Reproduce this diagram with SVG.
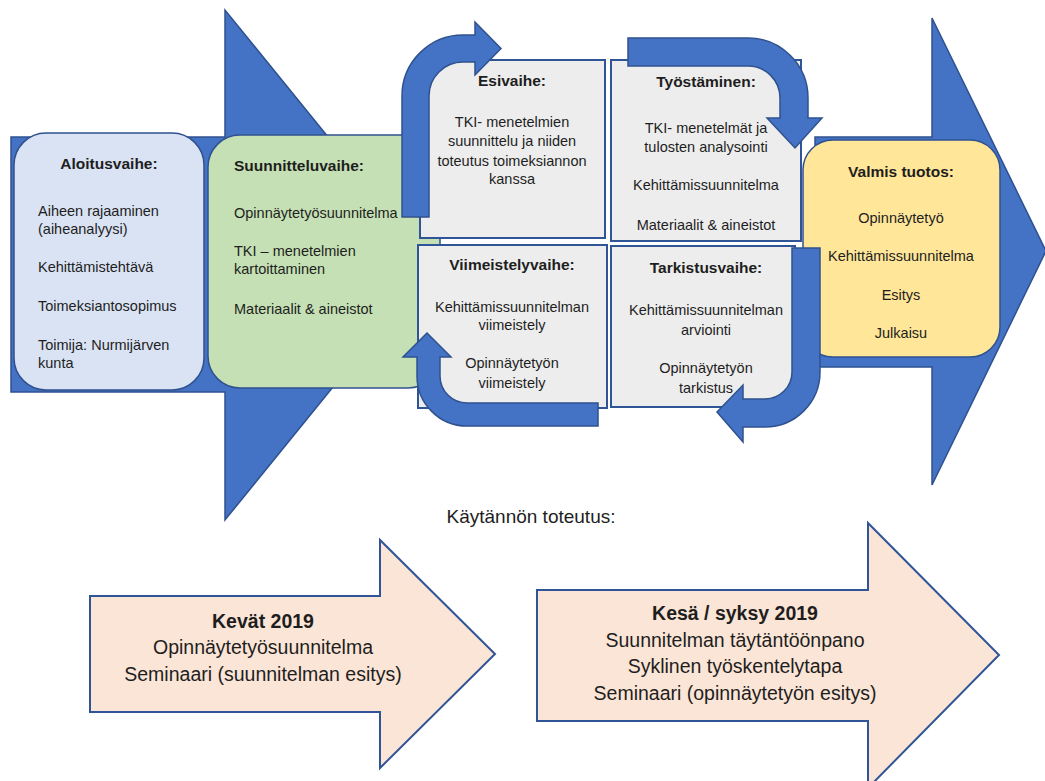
<svg xmlns="http://www.w3.org/2000/svg" width="1045" height="781" viewBox="0 0 1045 781">
<style>
text{font-family:"Liberation Sans",Arial,sans-serif;fill:#1e1e1e}
.t{font-weight:bold;font-size:15.5px}
.b{font-size:14.5px}
.c{text-anchor:middle}
.big{fill:#4472C4;stroke:#2F528F;stroke-width:1.5}
.box{stroke:#2F528F;stroke-width:1.5}
.grey{fill:#EDEDED;stroke:#2F5597;stroke-width:2}
.cyc{fill:#4472C4;stroke:#2F528F;stroke-width:1.5}
.peach{fill:#FBE5D6;stroke:#2F5597;stroke-width:2}
.bt{font-size:19.5px}
</style>
<g id="flow-arrows">
<path class="big" d="M11 137 L225 137 L225 10 L432 265 L225 520 L225 392 L11 392 Z"/>
<path class="big" d="M815 137 L932 137 L932 18 L1046 251 L932 485 L932 367 L815 367 Z"/>
</g>
<g id="aloitusvaihe">
<rect class="box" x="14" y="133" width="190" height="257" rx="32" fill="#DAE3F3"/>
<text class="t c" x="109" y="169">Aloitusvaihe:</text>
<text class="b" x="38" y="216">Aiheen rajaaminen</text>
<text class="b" x="38" y="234">(aiheanalyysi)</text>
<text class="b" x="38" y="272">Kehittämistehtävä</text>
<text class="b" x="38" y="311">Toimeksiantosopimus</text>
<text class="b" x="38" y="350">Toimija: Nurmijärven</text>
<text class="b" x="38" y="368">kunta</text>
</g>
<g id="suunnitteluvaihe">
<rect class="box" x="208" y="135" width="232" height="253" rx="32" fill="#C5E0B4"/>
<text class="t" x="234" y="171">Suunnitteluvaihe:</text>
<text class="b" x="234" y="218">Opinnäytetyösuunnitelma</text>
<text class="b" x="234" y="256">TKI – menetelmien</text>
<text class="b" x="234" y="274">kartoittaminen</text>
<text class="b" x="234" y="314">Materiaalit &amp; aineistot</text>
</g>
<g id="esivaihe">
<rect class="grey" x="420" y="60" width="185" height="178"/>
<text class="t c" x="512" y="86">Esivaihe:</text>
<text class="b c" x="512" y="127">TKI- menetelmien</text>
<text class="b c" x="512" y="146">suunnittelu ja niiden</text>
<text class="b c" x="512" y="166">toteutus toimeksiannon</text>
<text class="b c" x="512" y="184">kanssa</text>
</g>
<g id="tyostaminen">
<rect class="grey" x="611" y="60" width="190" height="181"/>
<text class="t c" x="706" y="87">Työstäminen:</text>
<text class="b c" x="706" y="133">TKI- menetelmät ja</text>
<text class="b c" x="706" y="152">tulosten analysointi</text>
<text class="b c" x="706" y="190">Kehittämissuunnitelma</text>
<text class="b c" x="706" y="230">Materiaalit &amp; aineistot</text>
</g>
<g id="viimeistelyvaihe">
<rect class="grey" x="418" y="245" width="189" height="163"/>
<text class="t c" x="512" y="270">Viimeistelyvaihe:</text>
<text class="b c" x="512" y="312">Kehittämissuunnitelman</text>
<text class="b c" x="512" y="330">viimeistely</text>
<text class="b c" x="512" y="368">Opinnäytetyön</text>
<text class="b c" x="512" y="388">viimeistely</text>
</g>
<g id="tarkistusvaihe">
<rect class="grey" x="611" y="246" width="184" height="161"/>
<text class="t c" x="706" y="273">Tarkistusvaihe:</text>
<text class="b c" x="706" y="315">Kehittämissuunnitelman</text>
<text class="b c" x="706" y="335">arviointi</text>
<text class="b c" x="706" y="373">Opinnäytetyön</text>
<text class="b c" x="706" y="393">tarkistus</text>
</g>
<g id="valmis-tuotos">
<rect class="box" x="803" y="140" width="197" height="217" rx="30" fill="#FFE699"/>
<text class="t c" x="901" y="177">Valmis tuotos:</text>
<text class="b c" x="901" y="223">Opinnäytetyö</text>
<text class="b c" x="901" y="261">Kehittämissuunnitelma</text>
<text class="b c" x="901" y="300">Esitys</text>
<text class="b c" x="901" y="338">Julkaisu</text>
</g>
<g id="cycle-connectors">
<path class="cyc" d="M402 217 L402 96 A61 61 0 0 1 463 35 L475 35 L475 22 L501 48.5 L475 75 L475 62 L463 62 A34 34 0 0 0 429 96 L429 217 Z"/>
<path class="cyc" d="M628 38 L748 38 A60 60 0 0 1 808 98 L808 118 L822 118 L795 148 L767 118 L780 118 L780 98 A32 32 0 0 0 748 66 L628 66 Z"/>
<path class="cyc" d="M793 248 L820 248 L820 372 A55 55 0 0 1 765 427 L743 427 L743 442 L717 412 L743 385 L743 399 L765 399 A27 27 0 0 0 792 372 L792 248 Z"/>
<path class="cyc" d="M598 403 L598 426 L467 426 A50 50 0 0 1 417 376 L417 357 L403 357 L427 333 L451 357 L440 357 L440 376 A27 27 0 0 0 467 403 Z"/>
</g>
<text x="531" y="523" text-anchor="middle" style="font-size:19px">Käytännön toteutus:</text>
<g id="kevat-2019">
<path class="peach" d="M90 596 L380 596 L380 540 L495 654 L380 768 L380 712 L90 712 Z"/>
<text class="bt c" x="263" y="628" font-weight="bold">Kevät 2019</text>
<text class="bt c" x="263" y="654">Opinnäytetyösuunnitelma</text>
<text class="bt c" x="263" y="681">Seminaari (suunnitelman esitys)</text>
</g>
<g id="kesa-syksy-2019">
<path class="peach" d="M537 590 L868 590 L868 523 L999 655 L868 788 L868 721 L537 721 Z"/>
<text class="bt c" x="735" y="620" font-weight="bold">Kesä / syksy 2019</text>
<text class="bt c" x="735" y="647">Suunnitelman täytäntöönpano</text>
<text class="bt c" x="735" y="673">Syklinen työskentelytapa</text>
<text class="bt c" x="735" y="700">Seminaari (opinnäytetyön esitys)</text>
</g>
</svg>
